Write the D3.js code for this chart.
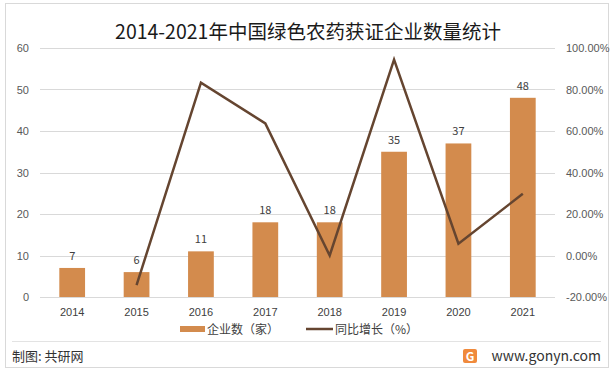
<!DOCTYPE html>
<html>
<head>
<meta charset="utf-8">
<script src="https://cdn.jsdelivr.net/npm/d3@7"></script>
<style>
  body { margin: 0; background: #fff; }
  svg { display: block; font-family: "Microsoft YaHei", "Noto Sans CJK SC", sans-serif; }
</style>
</head>
<body>
<div id="chart"></div>
<script>
// chart data
const years = ['2014', '2015', '2016', '2017', '2018', '2019', '2020', '2021'];
const companies = [7, 6, 11, 18, 18, 35, 37, 48];
const growth = [null, -14.29, 83.33, 63.64, 0, 94.44, 5.71, 29.73];
const leftTicks = [0, 10, 20, 30, 40, 50, 60];
const rightTicks = [-20, 0, 20, 40, 60, 80, 100];

const width = 614, height = 370;
const margin = { left: 40, right: 59, top: 48, bottom: 73 };

const svg = d3.select('#chart').append('svg')
    .attr('width', width)
    .attr('height', height);

// outer frame
svg.append('rect')
    .attr('x', 5.5).attr('y', 3.5)
    .attr('width', 603).attr('height', 364)
    .attr('fill', '#fff')
    .attr('stroke', '#d9d9d9');

const x = d3.scaleBand()
    .domain(years)
    .range([margin.left, width - margin.right])
    .paddingInner(0.6)
    .paddingOuter(0.3);

const yL = d3.scaleLinear().domain([0, 60]).range([height - margin.bottom, margin.top]);
const yR = d3.scaleLinear().domain([-20, 100]).range([height - margin.bottom, margin.top]);

// gridlines
svg.append('g')
    .selectAll('line')
    .data(leftTicks)
    .join('line')
    .attr('x1', margin.left)
    .attr('x2', width - margin.right)
    .attr('y1', d => Math.round(yL(d)) + 0.5)
    .attr('y2', d => Math.round(yL(d)) + 0.5)
    .attr('stroke', '#d9d9d9');

// left axis
const axL = svg.append('g')
    .attr('transform', `translate(${margin.left - 11},0)`)
    .call(d3.axisLeft(yL).tickValues(leftTicks).tickSize(0).tickPadding(0));
axL.select('.domain').remove();
axL.selectAll('text').attr('fill', '#595959').style('font-size', '11px');

// right axis
const axR = svg.append('g')
    .attr('transform', `translate(${width - margin.right + 11},0)`)
    .call(d3.axisRight(yR).tickValues(rightTicks).tickSize(0).tickPadding(0)
        .tickFormat(d => d.toFixed(2) + '%'));
axR.select('.domain').remove();
axR.selectAll('text').attr('fill', '#595959').style('font-size', '11px');

// bottom axis labels
const axB = svg.append('g')
    .attr('transform', `translate(0,${height - margin.bottom + 5})`)
    .call(d3.axisBottom(x).tickSize(0).tickPadding(6));
axB.select('.domain').remove();
axB.selectAll('text').attr('fill', '#404040').style('font-size', '11px');

// bars
svg.append('g')
    .selectAll('rect')
    .data(companies)
    .join('rect')
    .attr('x', (d, i) => x(years[i]))
    .attr('y', d => yL(d))
    .attr('width', x.bandwidth())
    .attr('height', d => yL(0) - yL(d))
    .attr('fill', '#d38b4d');

// bar labels
svg.append('g')
    .selectAll('text')
    .data(companies)
    .join('text')
    .attr('x', (d, i) => x(years[i]) + x.bandwidth() / 2)
    .attr('y', d => yL(d) - 8)
    .attr('text-anchor', 'middle')
    .attr('fill', '#404040')
    .style('font-size', '11px')
    .text(d => d);

// growth line
const pts = growth.map((g, i) => ({ year: years[i], g })).filter(p => p.g !== null);
const line = d3.line()
    .x(p => x(p.year) + x.bandwidth() / 2)
    .y(p => yR(p.g));
svg.append('path')
    .datum(pts)
    .attr('d', line)
    .attr('fill', 'none')
    .attr('stroke', '#654530')
    .attr('stroke-width', 2.5)
    .attr('stroke-linejoin', 'miter');

// title
svg.append('text')
    .attr('x', 308)
    .attr('y', 39)
    .attr('text-anchor', 'middle')
    .attr('fill', '#1a1a1a')
    .style('font-size', '19.5px')
    .text('2014-2021年中国绿色农药获证企业数量统计');

// legend
const legend = svg.append('g').style('font-size', '12px').attr('fill', '#404040');
legend.append('rect')
    .attr('x', 180).attr('y', 326).attr('width', 25).attr('height', 6)
    .attr('fill', '#d38b4d');
legend.append('text').attr('x', 207).attr('y', 334).text('企业数（家）');
legend.append('line')
    .attr('x1', 306).attr('x2', 333).attr('y1', 329).attr('y2', 329)
    .attr('stroke', '#654530').attr('stroke-width', 2.5);
legend.append('text').attr('x', 335).attr('y', 334).text('同比增长（%）');

// footer
svg.append('line')
    .attr('x1', 12).attr('x2', 601)
    .attr('y1', 341.5).attr('y2', 341.5)
    .attr('stroke', '#e3e3e3');
svg.append('text')
    .attr('x', 12).attr('y', 361)
    .attr('fill', '#333')
    .style('font-size', '13px')
    .text('制图: 共研网');

// small logo
const logo = svg.append('g').attr('transform', 'translate(463,349)');
logo.append('rect').attr('width', 14).attr('height', 14).attr('rx', 2).attr('fill', '#f08a3c');
logo.append('text').attr('x', 7).attr('y', 11.5).attr('text-anchor', 'middle')
    .attr('fill', '#fff').style('font-size', '12px').style('font-weight', 'bold').text('G');

svg.append('text')
    .attr('x', 601).attr('y', 361)
    .attr('text-anchor', 'end')
    .attr('fill', '#333')
    .style('font-size', '14px')
    .text('www.gonyn.com');
</script>
</body>
</html>
